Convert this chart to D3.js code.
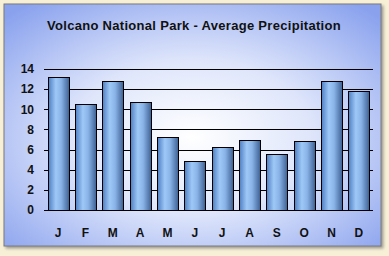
<!doctype html>
<html>
<head>
<style>
  body { margin: 0; background: #f8f0d6; }
  svg { display: block; }
</style>
<script src="https://d3js.org/d3.v7.min.js"></script>
</head>
<body>
<svg width="389" height="256"></svg>
<script>
var months = ["J", "F", "M", "A", "M", "J", "J", "A", "S", "O", "N", "D"];
var precip = [13.2, 10.5, 12.8, 10.7, 7.2, 4.85, 6.25, 6.95, 5.55, 6.9, 12.85, 11.8];
var yTicks = [0, 2, 4, 6, 8, 10, 12, 14];

var svg = d3.select("svg");
var defs = svg.append("defs");

// panel background: blue edges, pale centre
var bg = defs.append("radialGradient").attr("id", "bg")
    .attr("cx", "50%").attr("cy", "55%").attr("r", "70%");
bg.append("stop").attr("offset", "0%").attr("stop-color", "#ffffff");
bg.append("stop").attr("offset", "45%").attr("stop-color", "#dfe6fb");
bg.append("stop").attr("offset", "100%").attr("stop-color", "#8aa2ee");

var barGrad = defs.append("linearGradient").attr("id", "bar")
    .attr("x1", "0%").attr("x2", "100%");
barGrad.append("stop").attr("offset", "0%").attr("stop-color", "#4f7fc4");
barGrad.append("stop").attr("offset", "35%").attr("stop-color", "#9ec8f6");
barGrad.append("stop").attr("offset", "60%").attr("stop-color", "#8ab4e8");
barGrad.append("stop").attr("offset", "100%").attr("stop-color", "#3d5f92");

var shadow = defs.append("filter").attr("id", "sh");
shadow.append("feDropShadow").attr("dx", 2).attr("dy", 2)
    .attr("stdDeviation", 1.5).attr("flood-color", "#777").attr("flood-opacity", 0.7);

svg.append("rect")
    .attr("x", 4).attr("y", 4).attr("width", 377).attr("height", 242)
    .attr("fill", "url(#bg)")
    .attr("stroke", "#7a7a7a").attr("stroke-width", 1)
    .attr("filter", "url(#sh)");

svg.append("text")
    .attr("x", 194).attr("y", 30)
    .attr("text-anchor", "middle")
    .style("font", "bold 13px Arial, 'Liberation Sans', sans-serif")
    .style("letter-spacing", "0.3px")
    .attr("fill", "#111")
    .text("Volcano National Park - Average Precipitation");

var x = d3.scaleBand().domain(d3.range(months.length)).range([44, 373])
    .paddingInner(0.23).paddingOuter(0.13);
var y = d3.scaleLinear().domain([0, 14]).range([210, 69]);

// gridlines
svg.append("g").selectAll("line")
    .data(yTicks)
    .enter().append("line")
    .attr("x1", 44).attr("x2", 373)
    .attr("y1", function(d) { return Math.round(y(d)) + 0.5; })
    .attr("y2", function(d) { return Math.round(y(d)) + 0.5; })
    .attr("stroke", "#000").attr("stroke-width", 1);

svg.append("g").selectAll("text")
    .data(yTicks)
    .enter().append("text")
    .attr("x", 34)
    .attr("y", function(d) { return y(d); })
    .attr("dy", "0.36em")
    .attr("text-anchor", "end")
    .style("font", "bold 12px Arial, 'Liberation Sans', sans-serif")
    .attr("fill", "#111")
    .text(function(d) { return d; });

svg.append("g").selectAll("rect")
    .data(precip)
    .enter().append("rect")
    .attr("x", function(d, i) { return Math.round(x(i)) + 0.5; })
    .attr("y", function(d) { return Math.round(y(d)) + 0.5; })
    .attr("width", Math.round(x.bandwidth()))
    .attr("height", function(d) { return Math.round(y(0)) - Math.round(y(d)); })
    .attr("fill", "url(#bar)")
    .attr("stroke", "#000").attr("stroke-width", 1);

svg.append("g").selectAll("text")
    .data(months)
    .enter().append("text")
    .attr("x", function(d, i) { return x(i) + x.bandwidth() / 2; })
    .attr("y", 237)
    .attr("text-anchor", "middle")
    .style("font", "bold 12px Arial, 'Liberation Sans', sans-serif")
    .attr("fill", "#111")
    .text(function(d) { return d; });
</script>
</body>
</html>
